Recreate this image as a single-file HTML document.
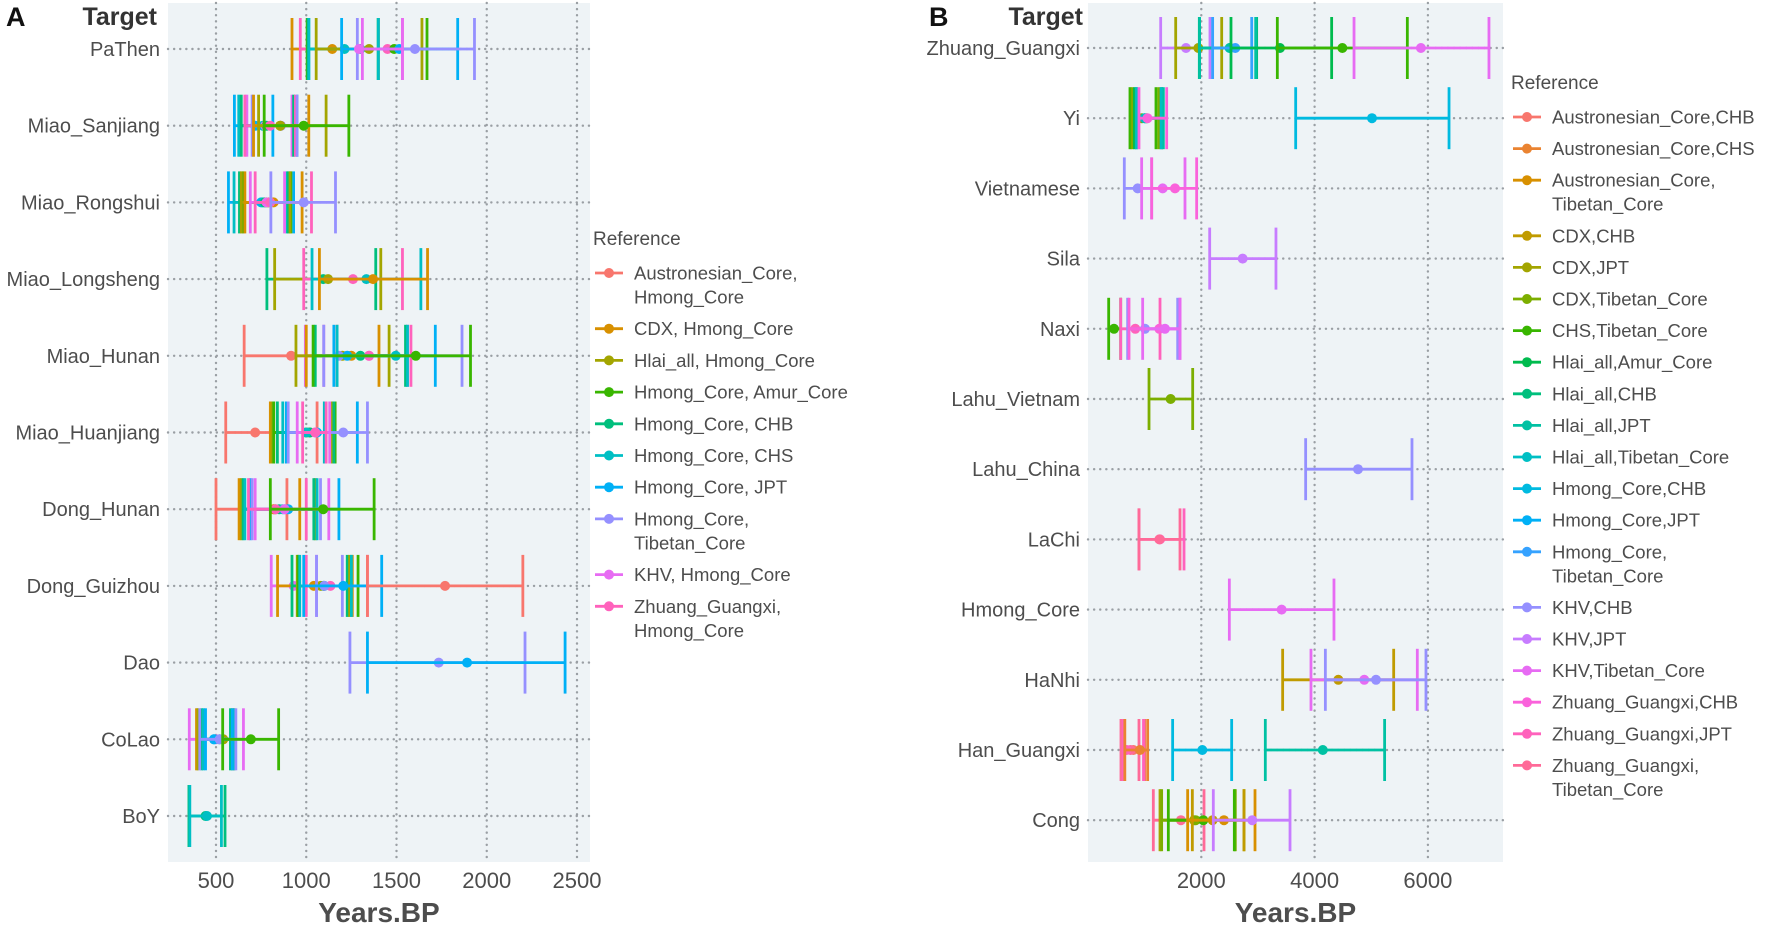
<!DOCTYPE html>
<html><head><meta charset="utf-8">
<style>
html,body{margin:0;padding:0;background:#fff;}
svg{display:block;font-family:"Liberation Sans",sans-serif;}
</style></head>
<body>
<svg id="fig" width="1772" height="928" viewBox="0 0 1772 928" xmlns="http://www.w3.org/2000/svg">
<text x="6" y="26" font-size="27" font-weight="bold" fill="#111">A</text>
<text x="157" y="25" font-size="25" font-weight="bold" fill="#333" text-anchor="end">Target</text>
<text x="929" y="26" font-size="27" font-weight="bold" fill="#111">B</text>
<text x="1083" y="25" font-size="25" font-weight="bold" fill="#333" text-anchor="end">Target</text>
<g id="pa"></g>
<g id="pb"></g>
</svg>
<script>
// ---------- Panel A data ----------
const targetsA = ["PaThen","Miao_Sanjiang","Miao_Rongshui","Miao_Longsheng","Miao_Hunan","Miao_Huanjiang","Dong_Hunan","Dong_Guizhou","Dao","CoLao","BoY"];
const refsA = ["Austronesian_Core,\nHmong_Core","CDX, Hmong_Core","Hlai_all, Hmong_Core","Hmong_Core, Amur_Core","Hmong_Core, CHB","Hmong_Core, CHS","Hmong_Core, JPT","Hmong_Core,\nTibetan_Core","KHV, Hmong_Core","Zhuang_Guangxi,\nHmong_Core"];
const ticksA = [500,1000,1500,2000,2500];
// [targetIndex, refIndex, lower, estimate, upper]
const intervalsA = [
[0,1,921,1144,1400],[0,9,967,1450,1533],[0,3,1005,1487,1669],[0,4,1010,1300,1398],[0,5,1015,1212,1400],[0,2,1055,1348,1641],[0,6,1196,1515,1839],[0,7,1283,1602,1932],[0,8,1311,1292,1533],
[1,6,602,717,815],[1,5,626,760,949],[1,8,671,773,921],[1,4,640,780,930],[1,9,660,800,940],[1,7,700,860,949],[1,1,708,856,1014],[1,2,736,856,1110],[1,3,767,986,1236],
[2,6,569,750,930],[2,5,600,760,893],[2,4,630,770,900],[2,3,650,780,915],[2,2,640,790,910],[2,1,660,819,977],[2,8,690,780,880],[2,9,717,800,1029],[2,7,804,986,1162],
[3,4,782,1094,1385],[3,2,825,1121,1413],[3,9,986,1259,1533],[3,5,1032,1333,1635],[3,1,1073,1370,1672],
[4,0,656,916,1171],[4,8,995,1348,1561],[4,1,1000,1250,1403],[4,2,943,1200,1459],[4,4,1050,1300,1550],[4,9,1097,1348,1580],[4,7,1097,1181,1863],[4,6,1153,1227,1715],[4,5,1171,1496,1561],[4,3,1038,1607,1910],
[5,0,554,717,1060],[5,1,801,1000,1153],[5,2,810,1000,1140],[5,3,820,1020,1160],[5,4,840,1020,1153],[5,5,870,1000,1100],[5,6,890,1060,1283],[5,7,900,1205,1339],[5,8,950,1050,1130],[5,9,980,1050,1110],
[6,0,500,820,893],[6,1,628,820,964],[6,2,640,830,1050],[6,4,650,850,1042],[6,5,660,870,1060],[6,6,689,900,1181],[6,7,700,880,1079],[6,8,717,880,1125],[6,9,680,830,1000],[6,3,801,1094,1376],
[7,8,806,930,1057],[7,1,841,1042,1255],[7,4,921,1097,1227],[7,2,950,1080,1240],[7,3,955,1097,1287],[7,5,964,1100,1250],[7,9,1000,1134,1339],[7,7,1057,1100,1200],[7,6,986,1205,1418],[7,0,1339,1769,2200],
[8,7,1242,1734,2212],[8,6,1339,1891,2434],
[9,8,352,500,652],[9,1,392,540,600],[9,2,400,540,590],[9,4,420,520,580],[9,5,430,489,600],[9,6,442,489,590],[9,7,410,520,610],[9,3,537,693,847],
[10,4,350,442,550],[10,5,355,450,530]
];
// ---------- Panel B data ----------
const targetsB = ["Zhuang_Guangxi","Yi","Vietnamese","Sila","Naxi","Lahu_Vietnam","Lahu_China","LaChi","Hmong_Core","HaNhi","Han_Guangxi","Cong"];
const refsB = ["Austronesian_Core,CHB","Austronesian_Core,CHS","Austronesian_Core,\nTibetan_Core","CDX,CHB","CDX,JPT","CDX,Tibetan_Core","CHS,Tibetan_Core","Hlai_all,Amur_Core","Hlai_all,CHB","Hlai_all,JPT","Hlai_all,Tibetan_Core","Hmong_Core,CHB","Hmong_Core,JPT","Hmong_Core,\nTibetan_Core","KHV,CHB","KHV,JPT","KHV,Tibetan_Core","Zhuang_Guangxi,CHB","Zhuang_Guangxi,JPT","Zhuang_Guangxi,\nTibetan_Core"];
const ticksB = [2000,4000,6000];
const intervalsB = [
[0,15,1283,1730,2153],[0,4,1548,1948,2360],[0,8,1965,2507,2977],[0,9,1970,2500,2960],[0,13,2200,2600,2890],[0,7,2524,3389,4301],[0,6,3342,4490,5637],[0,16,4696,5877,7078],
[1,6,741,888,1200],[1,5,780,950,1250],[1,7,820,1036,1300],[1,9,850,1000,1330],[1,10,860,1010,1290],[1,17,900,1050,1389],[1,11,3666,5013,6373],
[2,14,641,877,1124],[2,16,947,1318,1712],[2,17,1124,1536,1918],
[3,15,2148,2730,3318],
[4,6,365,459,577],[4,18,577,835,1271],[4,14,700,1006,1583],[4,17,724,1259,1624],[4,16,965,1359,1624],
[5,5,1077,1459,1848],
[6,14,3842,4766,5719],
[7,18,900,1271,1695],[7,19,900,1260,1624],
[8,16,2495,3418,4342],
[9,3,3436,4419,5396],[9,16,3936,4877,5813],[9,14,4190,5084,5966],
[10,0,600,800,1000],[10,19,582,750,900],[10,18,620,682,980],[10,1,650,918,1053],[10,11,1494,2018,2536],[10,9,3130,4145,5236],
[11,19,1153,1640,2048],[11,4,1271,1872,2754],[11,5,1300,1900,2600],[11,6,1418,2035,2583],[11,3,1842,2200,2754],[11,2,1759,2400,2948],[11,15,2212,2900,3566]
];

// ---------- helpers ----------
function hcl(h){
  const L=65,C=100,un=0.19784,vn=0.46834;
  const Y=Math.pow((L+16)/116,3);
  const hr=h*Math.PI/180, u=C*Math.cos(hr), v=C*Math.sin(hr);
  const up=u/(13*L)+un, vp=v/(13*L)+vn;
  const X=Y*9*up/(4*vp), Z=Y*(12-3*up-20*vp)/(4*vp);
  let r=3.2406*X-1.5372*Y-0.4986*Z, g=-0.9689*X+1.8758*Y+0.0415*Z, b=0.0557*X-0.2040*Y+1.0570*Z;
  const gam=c=>{c=c<=0.0031308?12.92*c:1.055*Math.pow(c,1/2.4)-0.055;return Math.round(Math.max(0,Math.min(1,c))*255);};
  return "rgb("+gam(r)+","+gam(g)+","+gam(b)+")";
}
function pal(n){const a=[];for(let i=0;i<n;i++)a.push(hcl(15+360*i/n));return a;}
const NS="http://www.w3.org/2000/svg";
function mk(tag,attrs,parent){const e=document.createElementNS(NS,tag);for(const k in attrs)e.setAttribute(k,attrs[k]);parent.appendChild(e);return e;}
const GRID={stroke:"#9a9fa4","stroke-width":2.4,"stroke-dasharray":"0.1,6","stroke-linecap":"round"};

function drawPanel(g,cfg,targets,refs,ticks,intervals,key){
  const cols=pal(refs.length);
  const xs=v=>cfg.x0+(v-cfg.v0)*cfg.k;
  const ys=i=>cfg.yTop+i*cfg.dy;
  const bg=mk("rect",{x:cfg.left,y:cfg.top,width:cfg.right-cfg.left,height:cfg.bottom-cfg.top,fill:"#eef3f6"},g);
  
  
  ticks.forEach(t=>{
    const l=mk("line",Object.assign({x1:xs(t),x2:xs(t),y1:cfg.top,y2:cfg.bottom},GRID),g);
    
    
    const tx=mk("text",{x:xs(t),y:cfg.bottom+26,"font-size":22,fill:"#4d4d4d","text-anchor":"middle"},g);
    tx.textContent=t;
    
    
  });
  targets.forEach((t,i)=>{
    const l=mk("line",Object.assign({x1:cfg.left,x2:cfg.right,y1:ys(i),y2:ys(i)},GRID),g);
    
    
    const tx=mk("text",{x:cfg.left-8,y:ys(i)+7,"font-size":20,fill:"#4d4d4d","text-anchor":"end"},g);
    tx.textContent=t;
    
    
  });
  intervals.forEach(d=>{
    const y=ys(d[0]),c=cols[d[1]],x1=xs(d[2]),xm=xs(d[3]),x2=xs(d[4]);
    const eg=mk("g",{stroke:c,"stroke-width":2.8},g);
    
    
    mk("line",{x1:x1,x2:x2,y1:y,y2:y},eg);
    mk("line",{x1:x1,x2:x1,y1:y-31,y2:y+31},eg);
    mk("line",{x1:x2,x2:x2,y1:y-31,y2:y+31},eg);
    const p=mk("circle",{cx:xm,cy:y,r:5,fill:c},g);
    
    
  });
  const tt=mk("text",{x:(cfg.left+cfg.right)/2,y:922,"font-size":28,"font-weight":"bold",fill:"#4d4d4d","text-anchor":"middle"},g);
  tt.textContent="Years.BP";
  
  
  const lg=mk("g",{},g);
  
  
  const lt=mk("text",{x:cfg.lx,y:cfg.ly,"font-size":19,fill:"#4d4d4d"},lg);
  lt.textContent="Reference";
  
  
  let y=cfg.ly+cfg.l0;
  refs.forEach((r,i)=>{
    const e=mk("g",{},lg);
    
    
    mk("line",{x1:cfg.lx+2,x2:cfg.lx+30,y1:y,y2:y,stroke:cols[i],"stroke-width":2.8},e);
    mk("circle",{cx:cfg.lx+16,cy:y,r:5,fill:cols[i]},e);
    const lines=r.split("\n");
    lines.forEach((s,j)=>{
      const tx=mk("text",{x:cfg.lx+41,y:y+6.5+j*24,"font-size":18.5,fill:"#4d4d4d"},e);
      tx.textContent=s;
    });
    y+=cfg.lstep+(lines.length-1)*24;
  });
}
drawPanel(document.getElementById("pa"),
  {left:168,right:590,top:3,bottom:862,x0:216,v0:500,k:0.1805,yTop:49,dy:76.7,lx:593,ly:245,l0:28,lstep:31.7},
  targetsA,refsA,ticksA,intervalsA,"panel-a");
drawPanel(document.getElementById("pb"),
  {left:1088,right:1503,top:3,bottom:862,x0:1088,v0:0,k:0.05665,yTop:48,dy:70.2,lx:1511,ly:89,l0:28,lstep:31.6},
  targetsB,refsB,ticksB,intervalsB,"panel-b");
</script>
</body></html>
